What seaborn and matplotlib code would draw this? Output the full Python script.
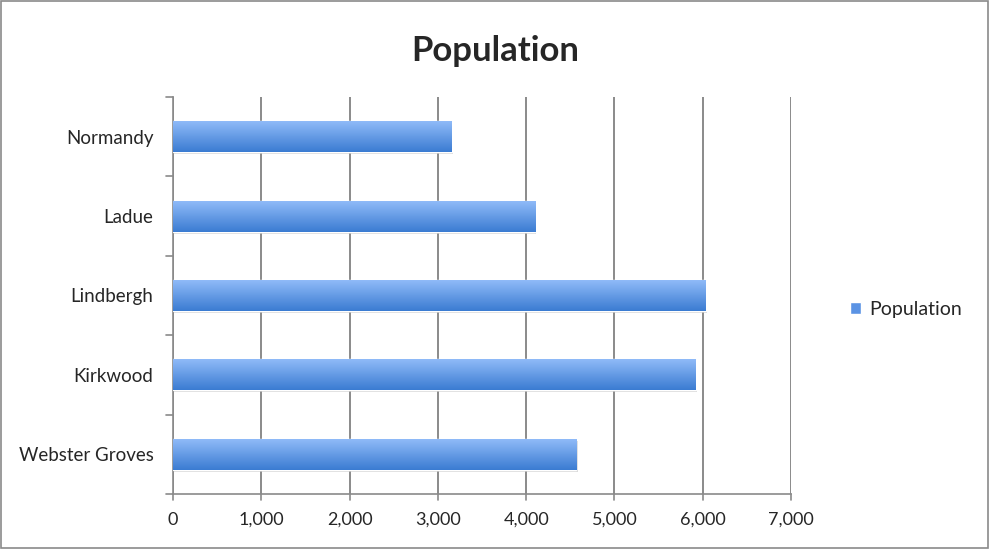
import numpy as np
import pandas as pd
import matplotlib
matplotlib.use("Agg")
import matplotlib.pyplot as plt
from matplotlib.patches import Rectangle
from matplotlib.colors import LinearSegmentedColormap
import seaborn as sns

towns = ["Normandy", "Ladue", "Lindbergh", "Kirkwood", "Webster Groves"]
population = [3155, 4100, 6035, 5920, 4570]
x_ticks = [0, 1000, 2000, 3000, 4000, 5000, 6000, 7000]

df = pd.DataFrame({"town": towns, "Population": population})

sns.set_style("white")
plt.rcParams["font.family"] = ["Lato", "DejaVu Sans"]

fig = plt.figure(figsize=(9.9, 5.49), dpi=100)
ax = fig.add_axes([0.1747, 0.1002, 0.6243, 0.7231])

sns.barplot(data=df, y="town", x="Population", order=towns, orient="h",
            color="#5b93e4", width=0.39, ax=ax, zorder=3)

# gradient fill on each bar, like the Excel look
grad = LinearSegmentedColormap.from_list("g", ["#8fbaf8", "#3b7cd2"])
for p in list(ax.patches):
    x0, y0 = p.get_x(), p.get_y()
    w, h = p.get_width(), p.get_height()
    sh = Rectangle((x0 + 15, y0 + 0.025), w, h, color="#c4c4c4", alpha=0.6,
                   zorder=2, lw=0)
    ax.add_patch(sh)
    img = ax.imshow(np.linspace(0, 1, 64).reshape(-1, 1), cmap=grad,
                    aspect="auto", extent=[x0, x0 + w, y0 + h, y0],
                    zorder=4)
    img.set_clip_path(p)

ax.set_xlim(0, 7000)
ax.set_ylim(len(towns) - 0.5, -0.5)
ax.set_xticks(x_ticks)
ax.set_xticklabels([f"{v:,}" for v in x_ticks], fontsize=13)
ax.set_yticks(range(len(towns)))
ax.set_yticklabels(towns, fontsize=13.5)
ax.tick_params(axis="y", length=0, pad=14)
ax.tick_params(axis="x", length=0, pad=13)
ax.set_xlabel("")
ax.set_ylabel("")

ax.xaxis.grid(True, color="#8a8a8a", lw=1.4, zorder=0)
ax.set_axisbelow(True)
for s in ["top", "right"]:
    ax.spines[s].set_visible(False)
for s in ["left", "bottom"]:
    ax.spines[s].set_color("#8a8a8a")
    ax.spines[s].set_linewidth(1.2)

# boundary ticks on the category axis and tick marks below the value axis
for b in np.arange(-0.5, len(towns), 1.0):
    ax.plot([-0.012, 0], [b, b], transform=ax.get_yaxis_transform(),
            color="#8a8a8a", lw=1.2, clip_on=False)
for v in x_ticks:
    ax.plot([v, v], [0, -0.015], transform=ax.get_xaxis_transform(),
            color="#8a8a8a", lw=1.2, clip_on=False)

fig.suptitle("Population", fontsize=25, fontweight="bold", x=0.5, y=0.937)

handle = Rectangle((0, 0), 1, 1, facecolor="#5b93e4")
fig.legend([handle], ["Population"], loc="center left",
           bbox_to_anchor=(0.841, 0.437), frameon=False, fontsize=14,
           handlelength=0.55, handleheight=0.55, handletextpad=0.45)

fig.patches.append(Rectangle((0.001, 0.002), 0.997, 0.996,
                             transform=fig.transFigure, fill=False,
                             edgecolor="#8a8a8a", lw=1.2))

fig.savefig("out.png", dpi=100)
